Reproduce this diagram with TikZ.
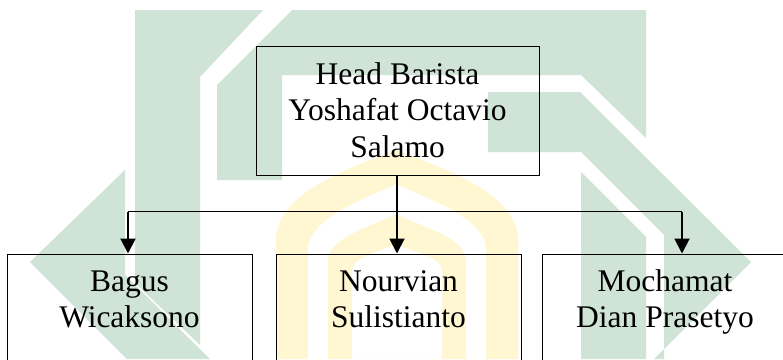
\documentclass[tikz,border=0pt]{standalone}
\usepackage{fontspec}
\setmainfont{Liberation Serif}
\usetikzlibrary{arrows.meta,calc}

\definecolor{markgreen}{RGB}{207,227,215}
\definecolor{markyellow}{RGB}{254,247,210}

\tikzset{
  box/.style={draw=black, line width=0.9pt, fill=none, inner sep=0pt},
  names/.style={align=center, inner sep=0pt,
    font=\fontsize{31.5}{36.5}\selectfont},
  stem/.style={line width=2pt, -{Triangle[length=15pt,width=15pt]}},
  rail/.style={line width=1.3pt},
  emblem/.style={fill=markgreen, draw=none},
  dome/.style={fill=markyellow, draw=none},
}

\begin{document}
\begin{tikzpicture}[x=1pt,y=-1pt]
\useasboundingbox (0,0) rectangle (783,359);
\clip (0,0) rectangle (783,359);
\fill[white] (0,0) rectangle (783,359);

% faint emblem in the background
\fill[emblem] (135,10) -- (263,10) -- (200,77) -- (200,345) -- (135,283) -- cycle;
\fill[emblem] (30,262) -- (125,170) -- (125,275) -- (210,359) -- (127,359) -- cycle;
\fill[emblem] (217,85) -- (292,10) -- (646,10) -- (646,138) -- (581,75)
  -- (282,75) -- (282,180) -- (217,180) -- cycle;
\fill[emblem] (488,92) -- (580,92) -- (751,262) -- (654,359) -- (664,359)
  -- (664,235) -- (581,152) -- (488,152) -- cycle;
\fill[emblem] (581,172) -- (646,237) -- (646,359) -- (581,359) -- cycle;

% pointed arches in the middle
\fill[dome] (276,359) -- (276,240) .. controls (276,190) and (360,165) .. (396,150)
  .. controls (432,165) and (518,190) .. (518,240) -- (518,359) -- cycle;
\fill[white] (308,359) -- (308,250) .. controls (308,217) and (370,197) .. (396,184)
  .. controls (422,197) and (486,217) .. (486,250) -- (486,359) -- cycle;
\fill[dome] (328,359) -- (328,260) .. controls (328,237) and (378,224) .. (396,214)
  .. controls (414,224) and (466,237) .. (466,260) -- (466,359) -- cycle;
\fill[white] (352,359) -- (352,270) .. controls (352,257) and (385,250) .. (396,244)
  .. controls (407,250) and (442,257) .. (442,270) -- (442,359) -- cycle;

% chart boxes
\node[box, minimum width=283pt, minimum height=129pt] (head) at (397.5,110.5) {};
\node[names] (headtext) at (397.5,113.2)
  {\strut Head Barista\\Yoshafat Octavio\\Salamo\strut};

\node[box, minimum width=245pt, minimum height=160pt, anchor=north] (b1) at (129.5,253.5) {};
\node[box, minimum width=245pt, minimum height=160pt, anchor=north] (b2) at (398.5,253.5) {};
\node[box, minimum width=245pt, minimum height=160pt, anchor=north] (b3) at (665,253.5) {};

\node[names] (t1) at ($(b1.north)+(0,48.7)$) {\strut Bagus\\Wicaksono\strut};
\node[names] (t2) at ($(b2.north)+(0,48.7)$) {\strut Nourvian\\Sulistianto\strut};
\node[names] (t3) at ($(b3.north)+(0,48.7)$) {\strut Mochamat\\Dian Prasetyo\strut};

% connectors
\coordinate (top) at (397,175);
\coordinate (jl) at (128,211.5);
\coordinate (jr) at (682,211.5);
\draw[rail] (jl) -- (jr);
\draw[stem] (top) -- (top |- b2.north);
\draw[stem] ([yshift=-0.6pt]jl) -- (jl |- b1.north);
\draw[stem] ([yshift=-0.6pt]jr) -- (jr |- b3.north);
\end{tikzpicture}
\end{document}
